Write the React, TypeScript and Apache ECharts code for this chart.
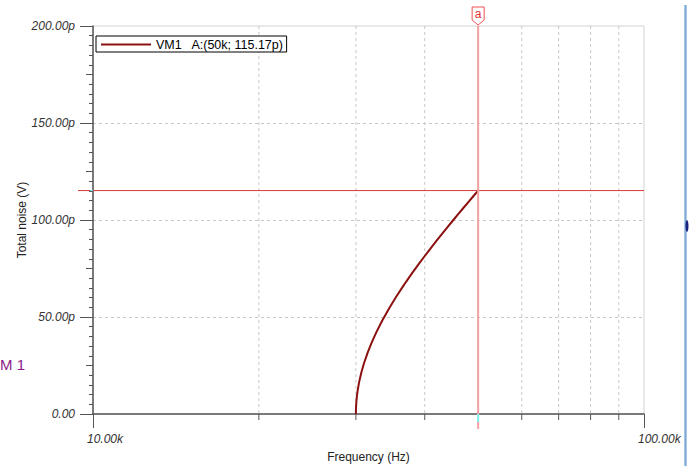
import React, { useEffect, useRef } from "react";
import * as echarts from "echarts";

const freqs = [30000, 30005, 30020, 30050, 30100, 30200, 30400, 30700, 31000, 31500, 32000, 32700, 33500, 34500, 35500, 36500, 37000, 38000, 39000, 40000, 41000, 42000, 43000, 44000, 45000, 46000, 47000, 48000, 49000, 50000];
const noiseP = [0, 1.82, 3.64, 5.76, 8.14, 11.52, 16.29, 21.55, 25.75, 31.54, 36.42, 42.32, 48.18, 54.63, 60.4, 65.66, 68.14, 72.84, 77.26, 81.44, 85.41, 89.21, 92.85, 96.36, 99.74, 103.01, 106.18, 109.26, 112.25, 115.17];
const gridFreqs = [20000, 30000, 40000, 50000, 60000, 70000, 80000, 90000];
const xTickLabels = [10000, 100000];
const cursorPoint = [50000, 115.17];
const seriesName = "VM1";
const legendText = "VM1   A:(50k; 115.17p)";
const xAxisName = "Frequency (Hz)";
const yAxisName = "Total noise (V)";
const sideLabel = "M 1";

const FONT = "Arial, 'Liberation Sans', sans-serif";

export default function App() {
  const ref = useRef<HTMLDivElement>(null);
  useEffect(() => {
    if (!ref.current) return;
    const chart = echarts.init(ref.current, null, { renderer: "svg" });
    const option: any = {
      animation: false,
      backgroundColor: "#ffffff",
      textStyle: { fontFamily: FONT },
      grid: {
        left: 93,
        right: 53,
        top: 26,
        bottom: 52,
        containLabel: false,
        outerBoundsMode: "none",
        show: true,
        borderColor: "#d4d4d4",
        borderWidth: 1,
      },
      legend: {
        left: 96,
        top: 36,
        orient: "horizontal",
        backgroundColor: "#ffffff",
        borderColor: "#000000",
        borderWidth: 1,
        borderRadius: 0,
        padding: [2, 3, 1, 5],
        itemWidth: 50,
        itemHeight: 14,
        itemGap: 5,
        textStyle: { fontFamily: FONT, fontSize: 12.5, color: "#000" },
        formatter: () => legendText,
        data: [{ name: seriesName, icon: "path://M0,6 L50,6 L50,8 L0,8 Z", itemStyle: { color: "#8b1010" } }],
      },
      xAxis: [
        {
          type: "log",
          logBase: 10,
          min: 10000,
          max: 100000,
          name: xAxisName,
          nameLocation: "middle",
          nameGap: 37,
          nameMoveOverlap: false,
          nameTextStyle: { fontFamily: FONT, fontSize: 12, color: "#222" },
          axisLine: { show: true, onZero: false, lineStyle: { color: "#555", width: 1.5 } },
          axisTick: { show: true, length: 14, lineStyle: { color: "#555", width: 1 } },
          axisLabel: { show: false },
          splitLine: { show: false },
        },
      ],
      yAxis: [
        {
          type: "value",
          min: 0,
          max: 200,
          interval: 50,
          position: "left",
          name: yAxisName,
          nameLocation: "middle",
          nameGap: 65,
          nameMoveOverlap: false,
          nameTextStyle: { fontFamily: FONT, fontSize: 12, color: "#222" },
          axisLine: { show: true, onZero: false, lineStyle: { color: "#555", width: 1.5 } },
          axisTick: { show: true, length: 13, lineStyle: { color: "#555", width: 1 } },
          minorTick: { show: true, splitNumber: 10, length: 4, lineStyle: { color: "#555", width: 1 } },
          axisLabel: {
            fontFamily: FONT,
            fontSize: 12,
            fontStyle: "italic",
            color: "#333",
            margin: 18,
            formatter: (v: number) => (v === 0 ? "0.00" : v.toFixed(2) + "p"),
          },
          splitLine: { show: true, showMinLine: false, showMaxLine: false, lineStyle: { color: "#c8c8c8", type: [3, 3], width: 1 } },
        },
        {
          type: "value",
          min: 0,
          max: 200,
          interval: 25,
          position: "left",
          offset: 0,
          axisLine: { show: false },
          axisTick: { show: true, length: 7, lineStyle: { color: "#555", width: 1 } },
          axisLabel: { show: false },
          splitLine: { show: false },
        },
      ],
      series: [
        {
          type: "custom",
          name: "grid",
          z: 1,
          silent: true,
          clip: false,
          data: gridFreqs.map((f) => [f, 0]),
          encode: { x: 0, y: 1 },
          renderItem: (params: any, api: any) => {
            const x = api.coord([api.value(0), 0])[0];
            const cs = params.coordSys;
            return {
              type: "group",
              children: [
                { type: "line", shape: { x1: x, y1: cs.y, x2: x, y2: cs.y + cs.height }, style: { stroke: "#c8c8c8", lineDash: [3, 3], lineWidth: 1 } },
                { type: "line", shape: { x1: x, y1: cs.y + cs.height, x2: x, y2: cs.y + cs.height + 6 }, style: { stroke: "#555", lineWidth: 1 } },
              ],
            };
          },
        },
        {
          type: "custom",
          name: "xlabels",
          z: 2,
          silent: true,
          clip: false,
          data: xTickLabels.map((f) => [f, 0]),
          encode: { x: 0, y: 1 },
          renderItem: (params: any, api: any) => {
            const v = api.value(0);
            const x = api.coord([v, 0])[0];
            const cs = params.coordSys;
            return {
              type: "text",
              x: x - 6,
              y: cs.y + cs.height + 25,
              style: {
                text: (v / 1000).toFixed(2) + "k",
                fill: "#333",
                font: "italic 12px " + FONT,
                align: "left",
                verticalAlign: "middle",
              },
            };
          },
        },
        {
          type: "line",
          name: seriesName,
          z: 3,
          symbol: "none",
          smooth: false,
          color: "#8b1010",
          lineStyle: { color: "#8b1010", width: 2 },
          data: freqs.map((f, i) => [f, noiseP[i]]),
        },
        {
          type: "custom",
          name: "cursor",
          z: 4,
          silent: true,
          clip: false,
          data: [cursorPoint],
          encode: { x: 0, y: 1 },
          renderItem: (params: any, api: any) => {
            const p = api.coord([api.value(0), api.value(1)]);
            const x = p[0];
            const y = p[1];
            const cs = params.coordSys;
            const bottom = cs.y + cs.height;
            const top = cs.y;
            return {
              type: "group",
              children: [
                { type: "line", shape: { x1: cs.x, y1: y, x2: cs.x + cs.width, y2: y }, style: { stroke: "#d83a3a", lineWidth: 1 } },
                { type: "line", shape: { x1: cs.x - 15, y1: y, x2: cs.x - 3, y2: y }, style: { stroke: "#d83a3a", lineWidth: 1 } },
                { type: "line", shape: { x1: cs.x - 3, y1: y, x2: cs.x, y2: y }, style: { stroke: "#60e8f0", lineWidth: 1 } },
                { type: "line", shape: { x1: x, y1: top, x2: x, y2: bottom + 15 }, style: { stroke: "#f4a0a0", lineWidth: 2 } },
                { type: "line", shape: { x1: x, y1: bottom, x2: x, y2: bottom + 8 }, style: { stroke: "#80f4f8", lineWidth: 2 } },
                {
                  type: "polygon",
                  shape: { points: [[x - 6, top - 19], [x + 6, top - 19], [x + 6, top - 6], [x, top - 1], [x - 6, top - 6]] },
                  style: { fill: "#ffffff", stroke: "#f05050", lineWidth: 1 },
                },
                {
                  type: "text",
                  x: x,
                  y: top - 12,
                  style: { text: "a", fill: "#e03030", font: "12px " + FONT, align: "center", verticalAlign: "middle" },
                },
              ],
            };
          },
        },
      ],
      graphic: [
        { type: "text", left: 0, top: 357, style: { text: sideLabel, fill: "#8b1a8b", font: "15px " + FONT } },
        { type: "rect", shape: { x: 684, y: 5, width: 3, height: 461 }, style: { fill: "#a8c8e8" } },
        { type: "rect", shape: { x: 685, y: 5, width: 1, height: 461 }, style: { fill: "#7fa8d0" } },
        { type: "ellipse", shape: { cx: 687, cy: 226, rx: 1.5, ry: 6 }, style: { fill: "#1a237e" } },
      ],
    };
    chart.setOption(option);
    return () => chart.dispose();
  }, []);
  return <div ref={ref} style={{ position: "fixed", left: 0, top: 0, width: 697, height: 466 }} />;
}
